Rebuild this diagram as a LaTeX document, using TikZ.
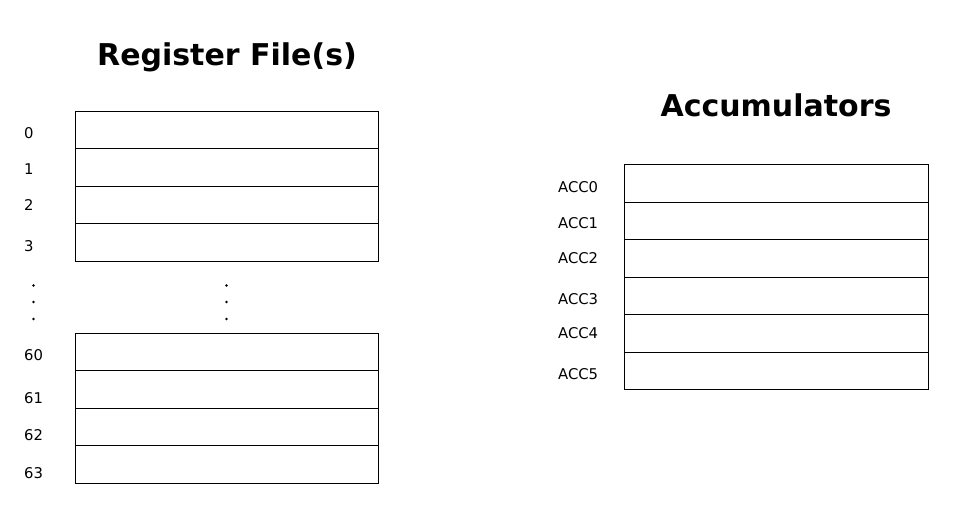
\documentclass[tikz,border=0pt]{standalone}
\usepackage{fontspec}
\setmainfont{DejaVu Sans}
\begin{document}
\begin{tikzpicture}[x=1pt,y=-1pt,
  cell/.style={draw=black,line width=0.9pt,fill=white,anchor=north west,minimum width=303pt,inner sep=0pt,outer sep=0pt},
  lbl/.style={anchor=west,inner sep=0pt,font=\fontsize{14.8}{16}\selectfont},
  ttl/.style={inner sep=0pt,font=\fontsize{30}{34}\selectfont\bfseries}]
\useasboundingbox[fill=white] (0,0) rectangle (970,516);
\node[ttl] (t1) at (227,57) {Register File(s)};
\node[ttl] (t2) at (776,105) {Accumulators};
% register file top
\node[cell,minimum height=37pt] (r0) at (75,111) {};
\node[cell,minimum height=38pt] (r1) at (75,148) {};
\node[cell,minimum height=37pt] (r2) at (75,186) {};
\node[cell,minimum height=38pt] (r3) at (75,223) {};
% bottom
\node[cell,minimum height=37pt] (r60) at (75,333) {};
\node[cell,minimum height=38pt] (r61) at (75,370) {};
\node[cell,minimum height=37pt] (r62) at (75,408) {};
\node[cell,minimum height=38pt] (r63) at (75,445) {};
% accumulators
\node[cell,minimum width=304pt,minimum height=38pt] (a0) at (624,164) {};
\node[cell,minimum width=304pt,minimum height=37pt] (a1) at (624,202) {};
\node[cell,minimum width=304pt,minimum height=38pt] (a2) at (624,239) {};
\node[cell,minimum width=304pt,minimum height=37pt] (a3) at (624,277) {};
\node[cell,minimum width=304pt,minimum height=38pt] (a4) at (624,314) {};
\node[cell,minimum width=304pt,minimum height=37pt] (a5) at (624,352) {};
% labels
\node[lbl] (l0) at (24,133) {0};
\node[lbl] (l1) at (24,169) {1};
\node[lbl] (l2) at (24,205) {2};
\node[lbl] (l3) at (24,246) {3};
\node[lbl] (l60) at (24,355) {60};
\node[lbl] (l61) at (24,398) {61};
\node[lbl] (l62) at (24,435) {62};
\node[lbl] (l63) at (24,473) {63};
\node[lbl] (la0) at (558,187) {ACC0};
\node[lbl] (la1) at (558,223) {ACC1};
\node[lbl] (la2) at (558,258) {ACC2};
\node[lbl] (la3) at (558,299) {ACC3};
\node[lbl] (la4) at (558,333) {ACC4};
\node[lbl] (la5) at (558,374) {ACC5};
% dots
\foreach \yy in {285.5,302,319}{
  \fill (33.5,\yy) circle (1.4pt);
  \fill (226.5,\yy) circle (1.4pt);
}
\end{tikzpicture}
\end{document}
